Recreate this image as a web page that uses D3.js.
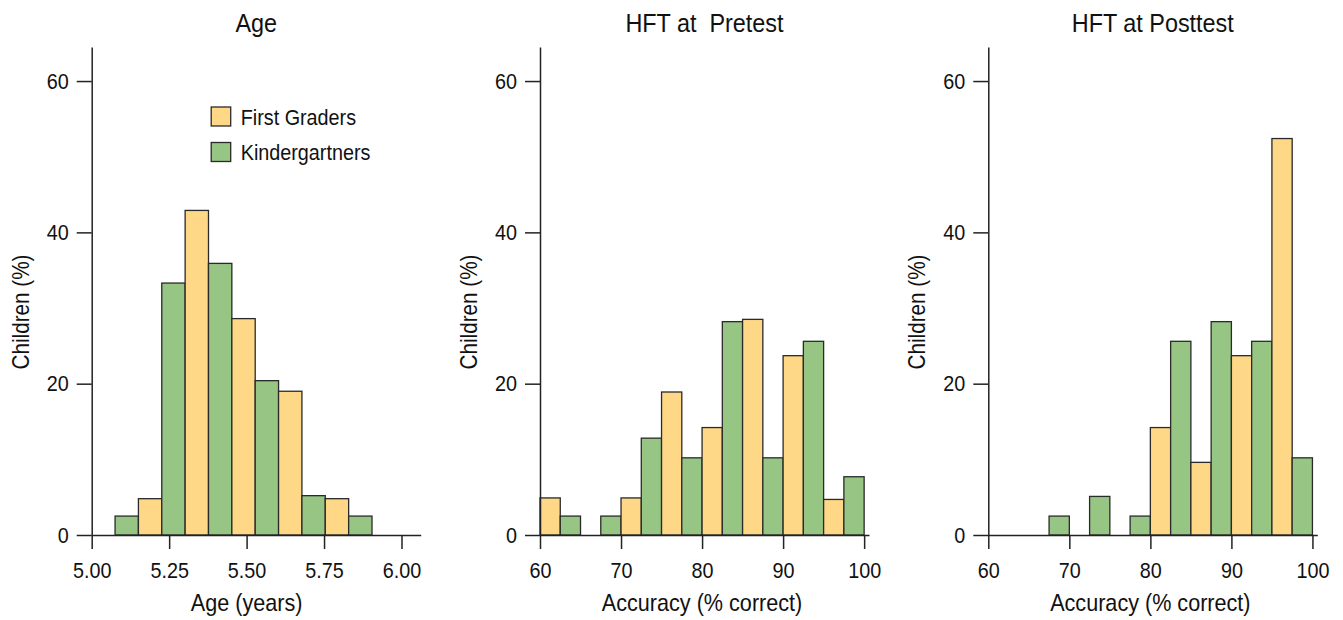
<!DOCTYPE html>
<html>
<head>
<meta charset="utf-8">
<script src="https://cdn.jsdelivr.net/npm/d3@7"></script>
<style>
  body { margin: 0; background: #fff; }
  svg text { font-family: 'Liberation Sans', Arial, sans-serif; fill: #111; }
  .axis path, .axis line { stroke: #222; stroke-width: 1.5; }
</style>
</head>
<body>
<svg id="chart" width="1343" height="620"></svg>
<script>
const groups = ['First Graders', 'Kindergartners'];
const groupColors = ['#fed886', '#96c584'];

// age histogram, bins start at 5.00 years
const ageBinStart = 5.0;
const ageBinWidth = 0.0754;
const ageValues = [0, 2.5, 4.8, 33.3, 42.9, 35.9, 28.6, 20.4, 19.0, 5.2, 4.8, 2.5];
const ageTicks = [5.0, 5.25, 5.5, 5.75, 6.0];

// HFT accuracy, 2.5 point bins from 60
const accBinStart = 60;
const accBinWidth = 2.5;
const pretestValues = [4.9, 2.5, 0, 2.5, 4.9, 12.8, 18.9, 10.2, 14.2, 28.2, 28.5, 10.2, 23.7, 25.6, 4.7, 7.7];
const posttestValues = [0, 0, 0, 2.5, 0, 5.1, 0, 2.5, 14.2, 25.6, 9.6, 28.2, 23.7, 25.6, 52.4, 10.2];
const accTicks = [60, 70, 80, 90, 100];

const yTicks = [0, 20, 40, 60];

const panels = [
  { title: 'Age', xLabel: 'Age (years)', values: ageValues, start: ageBinStart, bw: ageBinWidth,
    ticks: ageTicks, domain: [5.0, 6.062], fmt: d3.format('.2f'), legend: true },
  { title: 'HFT at\u00a0 Pretest', xLabel: 'Accuracy (% correct)', values: pretestValues, start: accBinStart, bw: accBinWidth,
    ticks: accTicks, domain: [60, 100.6], fmt: d3.format('d') },
  { title: 'HFT at Posttest', xLabel: 'Accuracy (% correct)', values: posttestValues, start: accBinStart, bw: accBinWidth,
    ticks: accTicks, domain: [60, 100.6], fmt: d3.format('d') }
];

const svg = d3.select('#chart');
const plotW = 329, plotTop = 47, plotBottom = 535;
const narrow = 0.9; // squeeze Liberation Sans toward a condensed face
const y = d3.scaleLinear().domain([0, 64.5]).range([plotBottom, plotTop]);

// text placed at (tx, ty), condensed horizontally around its anchor
function label(sel, tx, ty, size, str, anchor, extra) {
  return sel.append('text')
    .attr('transform', 'translate(' + tx + ',' + ty + ')' + (extra || '') + ' scale(' + narrow + ',1)')
    .attr('text-anchor', anchor || 'middle')
    .attr('font-size', size)
    .text(str);
}

panels.forEach(function(p, i) {
  const left = 91.7 + i * 448.3;
  const x = d3.scaleLinear().domain(p.domain).range([left, left + plotW]);
  const g = svg.append('g');

  const bins = p.values.map((v, k) => ({
    x0: p.start + k * p.bw,
    x1: p.start + (k + 1) * p.bw,
    value: v,
    group: k % 2
  })).filter(d => d.value > 0);

  g.selectAll('rect')
    .data(bins)
    .join('rect')
    .attr('x', d => x(d.x0))
    .attr('width', d => x(d.x1) - x(d.x0))
    .attr('y', d => y(d.value))
    .attr('height', d => y(0) - y(d.value))
    .attr('fill', d => groupColors[d.group])
    .attr('stroke', '#2a2a2a')
    .attr('stroke-width', 1.3);

  // axes
  const xAxis = g.append('g')
    .attr('class', 'axis')
    .attr('transform', 'translate(0,' + plotBottom + ')')
    .call(d3.axisBottom(x).tickValues(p.ticks).tickFormat(p.fmt).tickSize(14).tickSizeOuter(0).tickPadding(13));
  xAxis.selectAll('text')
    .attr('transform', 'scale(' + narrow + ',1)');

  const yAxis = g.append('g')
    .attr('class', 'axis')
    .attr('transform', 'translate(' + left + ',0)')
    .call(d3.axisLeft(y).tickValues(yTicks).tickSize(15).tickSizeOuter(0).tickPadding(8));
  yAxis.selectAll('text')
    .attr('x', 0)
    .attr('transform', 'translate(-23,0) scale(' + narrow + ',1)');

  g.selectAll('.axis text')
    .attr('font-size', 22)
    .attr('fill', '#111');

  label(g, left + plotW / 2, 31.5, 26, p.title);
  label(g, (x(p.ticks[0]) + x(p.ticks[p.ticks.length - 1])) / 2, 611, 24, p.xLabel);
  label(g, left - 63, 312, 23, 'Children (%)', 'middle', ' rotate(-90)');

  if (p.legend) {
    const lg = g.append('g').attr('transform', 'translate(' + (left + 119.5) + ',107)');
    groups.forEach(function(name, k) {
      lg.append('rect')
        .attr('y', k * 35.5)
        .attr('width', 19.5)
        .attr('height', 19)
        .attr('fill', groupColors[k])
        .attr('stroke', '#2a2a2a')
        .attr('stroke-width', 1.3);
      label(lg, 29.5, k * 35.5 + 17.5, 22, name, 'start');
    });
  }
});
</script>
</body>
</html>
